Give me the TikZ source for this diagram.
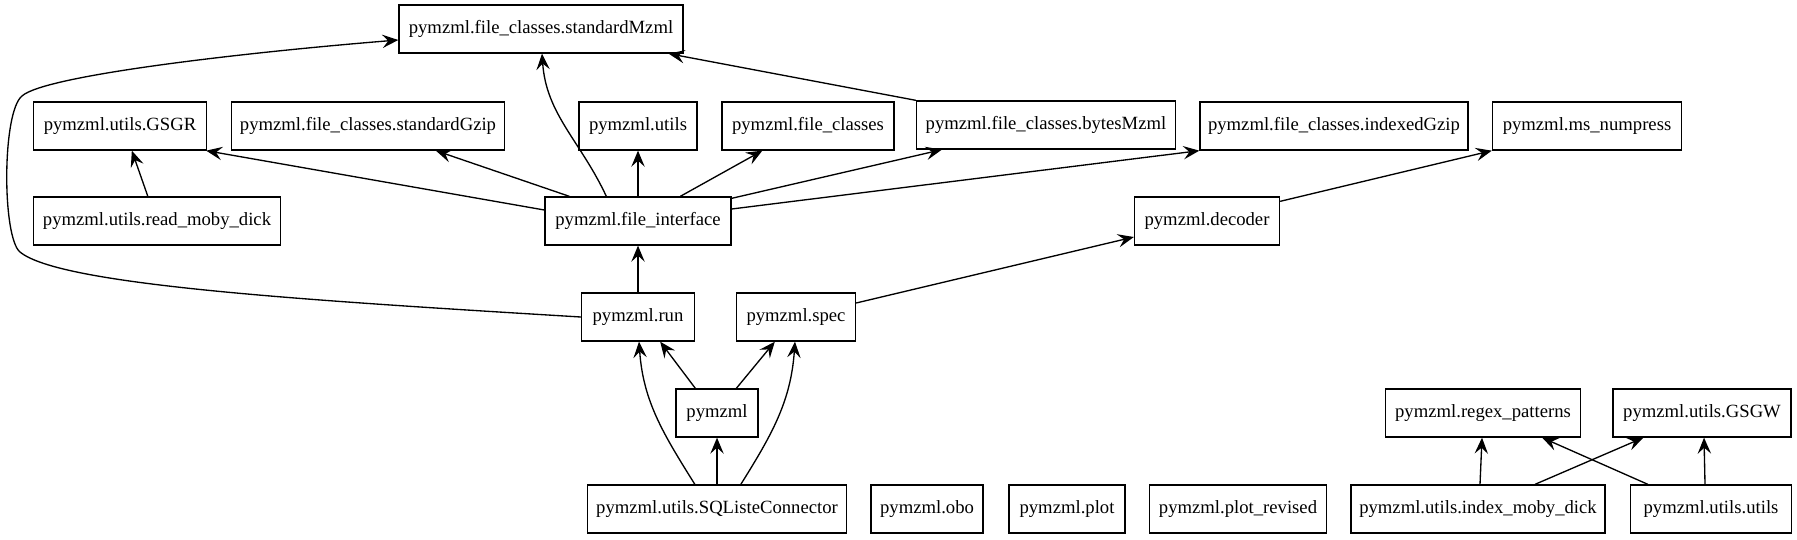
\documentclass[tikz,border=0pt]{standalone}
\usepackage{fontspec}
\setmainfont{Liberation Serif}
\usetikzlibrary{arrows.meta,calc}
\tikzset{
  box/.style={draw, line width=1pt, minimum height=36pt, minimum width=#1*0.75pt,
    inner sep=0pt, font=\fontsize{14}{17}\selectfont},
  arr/.style={draw, line width=1pt, -{Stealth[length=12pt,width=10pt,inset=4.5pt]}}
}
\begin{document}
\begin{tikzpicture}[x=0.75pt,y=-0.75pt]
\useasboundingbox[fill=white] (0,0) rectangle (1797,539);
% row 1
\node[box=284] (smz) at (541,29) {pymzml.file\_classes.standardMzml};
% row 2
\node[box=173] (gsgr) at (120,126) {pymzml.utils.GSGR};
\node[box=273] (sgz) at (368,126) {pymzml.file\_classes.standardGzip};
\node[box=118] (utils) at (638,126) {pymzml.utils};
\node[box=172] (fc) at (808,126) {pymzml.file\_classes};
\node[box=259] (bmz) at (1046,125) {pymzml.file\_classes.bytesMzml};
\node[box=268] (igz) at (1334,126) {pymzml.file\_classes.indexedGzip};
\node[box=189] (msn) at (1587,126) {pymzml.ms\_numpress};
% row 3
\node[box=247] (rmd) at (157,221) {pymzml.utils.read\_moby\_dick};
\node[box=186] (fi) at (638,221) {pymzml.file\_interface};
\node[box=145] (dec) at (1207,221) {pymzml.decoder};
% row 4
\node[box=113] (run) at (638,317) {pymzml.run};
\node[box=119] (spec) at (796,317) {pymzml.spec};
% row 5
\node[box=82] (pym) at (717,413) {pymzml};
\node[box=195] (regex) at (1483,413) {pymzml.regex\_patterns};
\node[box=178] (gsgw) at (1702,413) {pymzml.utils.GSGW};
% row 6
\node[box=259] (sql) at (717,509) {pymzml.utils.SQListeConnector};
\node[box=112] (obo) at (927,509) {pymzml.obo};
\node[box=116] (plot) at (1067,509) {pymzml.plot};
\node[box=177] (plotrev) at (1238,509) {pymzml.plot\_revised};
\node[box=254] (imd) at (1478,509) {pymzml.utils.index\_moby\_dick};
\node[box=161] (uu) at (1711,509) {pymzml.utils.utils};

% edges from file_interface
\draw[arr] ($(fi.north west)+(62,0)$) to[out=115,in=-86] ($(smz.south)+(1,0)$);
\draw[arr] ($(fi.west)+(0,-11)$) -- ($(gsgr.south east)+(-1,0)$);
\draw[arr] ($(fi.north west)+(25,0)$) -- ($(sgz.south west)+(205,0)$);
\draw[arr] (fi.north) -- (utils.south);
\draw[arr] ($(fi.north west)+(136,0)$) -- ($(fc.south west)+(41,0)$);
\draw[arr] ($(fi.north east)+(0,2)$) -- ($(bmz.south west)+(26,0)$);
\draw[arr] ($(fi.east)+(0,-12)$) -- (igz.south west);
% others
\draw[arr] ($(rmd.north west)+(115,0)$) -- ($(gsgr.south west)+(99,0)$);
\draw[arr] (bmz.north west) -- ($(smz.south east)+(-15,0)$);
\draw[arr] ($(dec.north east)+(0,5)$) -- (msn.south west);
\draw[arr] ($(spec.east)+(0,-14)$) -- ($(dec.west)+(0,16)$);
\draw[arr] (run.north) -- (fi.south);
\draw[arr] (run.west) .. controls (300,300) and (60,285) .. (20,252)
  .. controls (2,237) and (2,112) .. (22,96)
  .. controls (45,75) and (250,52) .. ($(smz.west)+(0,11)$);
\draw[arr] ($(pym.north west)+(20,0)$) -- ($(run.south east)+(-35,0)$);
\draw[arr] ($(pym.north west)+(61,0)$) -- ($(spec.south west)+(39,0)$);
\draw[arr] (sql.north) -- (pym.south);
\draw[arr] ($(sql.north west)+(108,0)$) to[out=122,in=-86] ($(run.south)+(1,0)$);
\draw[arr] ($(sql.north west)+(154,0)$) to[out=58,in=-94] ($(spec.south)+(-1,0)$);
\draw[arr] ($(imd.north)+(2,0)$) -- ($(regex.south)+(-1,0)$);
\draw[arr] ($(imd.north)+(57,0)$) -- ($(gsgw.south west)+(31,0)$);
\draw[arr] ($(uu.north west)+(18,0)$) -- ($(regex.south east)+(-39,0)$);
\draw[arr] ($(uu.north)+(-6,0)$) -- ($(gsgw.south)+(2,0)$);
\end{tikzpicture}
\end{document}
